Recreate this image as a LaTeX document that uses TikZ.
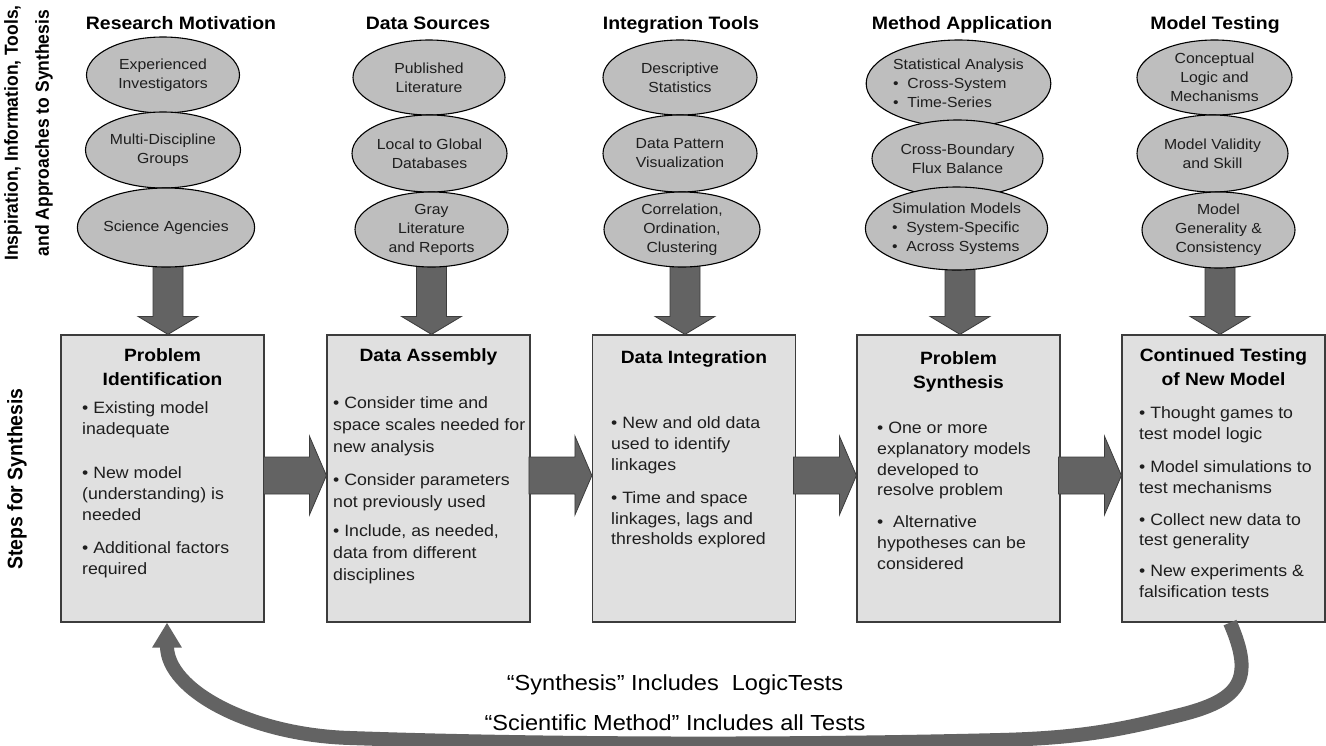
\documentclass[tikz,border=0pt]{standalone}
\usepackage{fontspec}
\setmainfont{Liberation Sans}[FakeStretch=1.08]
\newfontfamily\sidefont{Liberation Sans}[FakeStretch=0.926]
\usetikzlibrary{shapes.geometric,arrows.meta,calc}
\definecolor{ovalfill}{HTML}{BEBEBE}
\definecolor{boxfill}{HTML}{E0E0E0}
\definecolor{arrfill}{HTML}{636363}
\definecolor{arrline}{HTML}{3C3C3C}
\definecolor{txt}{HTML}{1E1E1E}
\begin{document}
\begin{tikzpicture}[x=1pt,y=-1pt,
 oval/.style={ellipse, draw=black, line width=1.1pt, fill=ovalfill, inner sep=0pt, align=center, text=txt, font=\fontsize{14.6}{19}\selectfont},
 hdr/.style={anchor=base, font=\bfseries\fontsize{18}{21}\selectfont},
 stepbox/.style={rectangle, draw=arrline, line width=1.2pt, fill=boxfill, minimum width=203pt, minimum height=287pt, inner sep=0pt},
 boxhead/.style={anchor=north, align=center, inner sep=0pt, font=\bfseries\fontsize{17.8}{24}\selectfont},
 boxbody/.style={anchor=north west, align=left, inner sep=0pt, text=txt, font=\fontsize{16.4}{20.8}\selectfont},
 blockarrow/.style={draw=arrline, fill=arrfill, line width=0.8pt, line join=miter},
 loopline/.style={draw=arrfill, line width=14pt},
 side/.style={rotate=90, align=center, font=\sidefont\bfseries\fontsize{18.9}{31}\selectfont},
 loopnote/.style={anchor=base, font=\fontsize{21.8}{25}\selectfont},
]
\useasboundingbox (0,0) rectangle (1326,745);

% headers
\node[hdr] (c1) at (181,29.5) {Research Motivation};
\node[hdr] (c2) at (428,29.5) {Data Sources};
\node[hdr] (c3) at (681,29.5) {Integration Tools};
\node[hdr] (c4) at (962,29.5) {Method Application};
\node[hdr] (c5) at (1215,29.5) {Model Testing};

% side labels
\node[side] (s1) at (28.5,133) {Inspiration, Information, Tools,\\and Approaches to Synthesis};
\node[side, font=\sidefont\bfseries\fontsize{21}{26}\selectfont] (s2) at (17,479) {Steps for Synthesis};

% boxes
\node[stepbox] (b1) at (162.5,478.5) {};
\node[stepbox] (b2) at (428.5,478.5) {};
\node[stepbox] (b3) at (694,478.5) {};
\node[stepbox] (b4) at (958.5,478.5) {};
\node[stepbox] (b5) at (1223.5,478.5) {};

\node[boxhead] (h1) at (162.5,348.5) {Problem\\Identification};
\node[boxhead] (h2) at (428.5,348.5) {Data Assembly};
\node[boxhead] (h3) at (694,350.5) {Data Integration};
\node[boxhead] (h4) at (958.5,351.5) {Problem\\Synthesis};
\node[boxhead] (h5) at (1223.5,348.5) {Continued Testing\\of New Model};

\node[boxbody] (t1) at (82,401.8) {• Existing model\\inadequate\\[23pt]• New model\\(understanding) is\\needed\\[13pt]• Additional factors\\required};
\node[boxbody, font=\fontsize{16.4}{21.8}\selectfont] (t2) at (333,396.8) {• Consider time and\\space scales needed for\\new analysis\\[11pt]• Consider parameters\\not previously used\\[8pt]• Include, as needed,\\data from different\\disciplines};
\node[boxbody] (t3) at (611,416.8) {• New and old data\\used to identify\\linkages\\[12pt]• Time and space\\linkages, lags and\\thresholds explored};
\node[boxbody] (t4) at (877,421.8) {• One or more\\explanatory models\\developed to\\resolve problem\\[11pt]•\ \ Alternative\\hypotheses can be\\considered};
\node[boxbody] (t5) at (1139,406.8) {• Thought games to\\test model logic\\[12pt]• Model simulations to\\test mechanisms\\[11pt]• Collect new data to\\test generality\\[10pt]• New experiments \&\\falsification tests};

% vertical block arrows (oval stack -> box)
\draw[blockarrow] ([xshift=5.5]b1.north) -- ++(-30,-18) -- ++(15,0) -- ++(0,-52) -- ++(30,0) -- ++(0,52) -- ++(15,0) -- cycle;
\draw[blockarrow] ([xshift=3]b2.north) -- ++(-30,-18) -- ++(15,0) -- ++(0,-52) -- ++(30,0) -- ++(0,52) -- ++(15,0) -- cycle;
\draw[blockarrow] ([xshift=-9]b3.north) -- ++(-30,-18) -- ++(15,0) -- ++(0,-52) -- ++(30,0) -- ++(0,52) -- ++(15,0) -- cycle;
\draw[blockarrow] ([xshift=1.5]b4.north) -- ++(-30,-18) -- ++(15,0) -- ++(0,-52) -- ++(30,0) -- ++(0,52) -- ++(15,0) -- cycle;
\draw[blockarrow] ([xshift=-3.5]b5.north) -- ++(-30,-18) -- ++(15,0) -- ++(0,-52) -- ++(30,0) -- ++(0,52) -- ++(15,0) -- cycle;

% horizontal block arrows (box -> box)
\draw[blockarrow] ([yshift=3]b2.west) -- ++(-17,-39.5) -- ++(0,21) -- ++(-46,0) -- ++(0,37) -- ++(46,0) -- ++(0,21) -- cycle;
\draw[blockarrow] ([yshift=3]b3.west) -- ++(-17,-39.5) -- ++(0,21) -- ++(-46,0) -- ++(0,37) -- ++(46,0) -- ++(0,21) -- cycle;
\draw[blockarrow] ([yshift=3]b4.west) -- ++(-17,-39.5) -- ++(0,21) -- ++(-46,0) -- ++(0,37) -- ++(46,0) -- ++(0,21) -- cycle;
\draw[blockarrow] ([yshift=3]b5.west) -- ++(-17,-39.5) -- ++(0,21) -- ++(-46,0) -- ++(0,37) -- ++(46,0) -- ++(0,21) -- cycle;

% ovals
\node[oval, minimum width=153pt, minimum height=76pt] (o11) at (163,75) {Experienced\\Investigators};
\node[oval, minimum width=155pt, minimum height=76pt] (o12) at (163,150) {Multi-Discipline\\Groups};
\node[oval, minimum width=155pt, minimum height=79pt] (o13) at (166,227.5) {Science Agencies};

\node[oval, minimum width=152pt, minimum height=75pt] (o21) at (429,77.5) {Published\\Literature};
\node[oval, minimum width=155pt, minimum height=77pt] (o22) at (429.5,153.5) {Local to Global\\Databases};
\node[oval, minimum width=153pt, minimum height=75pt] (o23) at (431.5,229.5) {Gray\\Literature\\and Reports};

\node[oval, minimum width=154pt, minimum height=75pt] (o31) at (680,77.5) {Descriptive\\Statistics};
\node[oval, minimum width=154pt, minimum height=77pt] (o32) at (680,153.5) {Data Pattern\\Visualization};
\node[oval, minimum width=156pt, minimum height=75pt] (o33) at (682,229.5) {Correlation,\\Ordination,\\Clustering};

\node[oval, minimum width=173pt, minimum height=87pt, align=left] (o41) at (958.5,83.5) {Statistical Analysis\\•\ \ Cross-System\\•\ \ Time-Series};
\node[oval, minimum width=171pt, minimum height=77pt] (o42) at (957.5,158.5) {Cross-Boundary\\Flux Balance};
\node[oval, minimum width=167pt, minimum height=83pt, align=left] (o43) at (956.5,228.5) {Simulation Models\\•\ \ System-Specific\\•\ \ Across Systems};

\node[oval, minimum width=155pt, minimum height=75pt] (o51) at (1214.5,77.5) {Conceptual\\Logic and\\Mechanisms};
\node[oval, minimum width=151pt, minimum height=77pt] (o52) at (1212.5,153.5) {Model Validity\\and Skill};
\node[oval, minimum width=153pt, minimum height=76pt] (o53) at (1218.5,230) {Model\\Generality \&\\Consistency};

% feedback loop
\draw[loopline, -{Triangle[width=28pt,length=25pt]}] ([xshift=6.5]b5.south) .. controls (1255,680) and (1240,700) .. (1180,715) .. controls (1120,730) and (1080,738) .. (1000,740) .. controls (800,745) and (550,745) .. (350,738) .. controls (250,735) and (167,690) .. ([xshift=4.5]b1.south);

\node[loopnote] (n1) at (675,690) {“Synthesis” Includes\ \ LogicTests};
\node[loopnote] (n2) at (675,730.5) {“Scientific Method” Includes all Tests};
\end{tikzpicture}
\end{document}
